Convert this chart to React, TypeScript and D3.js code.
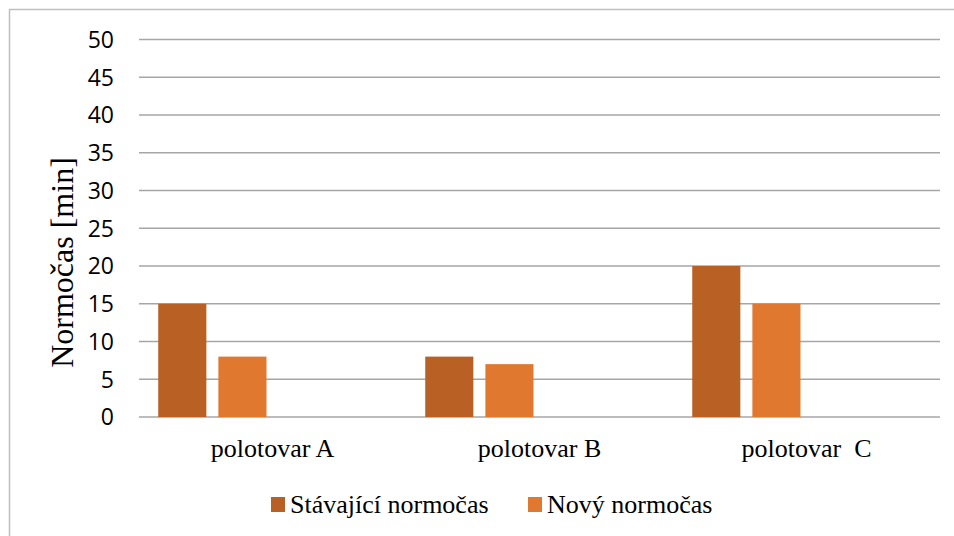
import React from "react";
import * as d3 from "d3";

const categories = ["polotovar A", "polotovar B", "polotovar  C"];
const seriesNames = ["Stávající normočas", "Nový normočas"];
const stavajici = [15, 8, 20];
const novy = [8, 7, 15];
// the source chart reserves four bar slots per category; only two are filled
const slotKeys = ["s0", "s1", "s2", "s3"];
const yTicks = [0, 5, 10, 15, 20, 25, 30, 35, 40, 45, 50];
const colors = ["#B96125", "#E07830"];

export default function App() {
  const W = 954;
  const H = 536;
  const left = 139;
  const right = 940;
  const top = 39.5;
  const bottom = 417;

  const x0 = d3.scaleBand().domain(categories).range([left, right]).padding(0);
  const x1 = d3
    .scaleBand()
    .domain(slotKeys)
    .range([0, x0.bandwidth()])
    .paddingInner(0.2)
    .paddingOuter(0.32);
  const y = d3.scaleLinear().domain([0, 50]).range([bottom, top]);

  const series = [stavajici, novy];

  return (
    <svg
      width={W}
      height={H}
      style={{ position: "absolute", left: 0, top: 0, background: "#fff" }}
    >
      <rect x={0} y={0} width={W} height={H} fill="#fff" />
      <rect x={9.5} y={9.5} width={W + 10} height={H + 10} fill="none" stroke="#BFBFBF" strokeWidth={1.5} />
      {yTicks.map((t) => (
        <g key={t}>
          <line x1={left} x2={right} y1={y(t)} y2={y(t)} stroke="#A6A6A6" strokeWidth={1.6} />
          <text
            x={114}
            y={y(t)}
            dy="0.36em"
            textAnchor="end"
            fontFamily="'Open Sans', sans-serif"
            fontSize={23}
            fill="#000"
          >
            {t}
          </text>
        </g>
      ))}
      {categories.map((c, ci) => (
        <g key={c}>
          {series.map((s, si) => (
            <rect
              key={si}
              x={(x0(c) as number) + (x1(slotKeys[si]) as number)}
              y={y(s[ci])}
              width={x1.bandwidth()}
              height={y(0) - y(s[ci])}
              fill={colors[si]}
            />
          ))}
          <text
            x={(x0(c) as number) + x0.bandwidth() / 2}
            y={457}
            textAnchor="middle"
            fontFamily="'Liberation Serif', 'Times New Roman', serif"
            fontSize={26}
            style={{ whiteSpace: "pre" }}
            fill="#000"
          >
            {c}
          </text>
        </g>
      ))}
      <text
        transform={`translate(73, 262.5) rotate(-90)`}
        textAnchor="middle"
        fontFamily="'Liberation Serif', 'Times New Roman', serif"
        fontSize={32}
        fill="#000"
      >
        Normočas [min]
      </text>
      {/* legend */}
      <rect x={271} y={497} width={14} height={15} fill={colors[0]} />
      <text x={290} y={513} fontFamily="'Liberation Serif', 'Times New Roman', serif" fontSize={26} fill="#000">
        {seriesNames[0]}
      </text>
      <rect x={528} y={497} width={14} height={15} fill={colors[1]} />
      <text x={547} y={513} fontFamily="'Liberation Serif', 'Times New Roman', serif" fontSize={26} fill="#000">
        {seriesNames[1]}
      </text>
    </svg>
  );
}
